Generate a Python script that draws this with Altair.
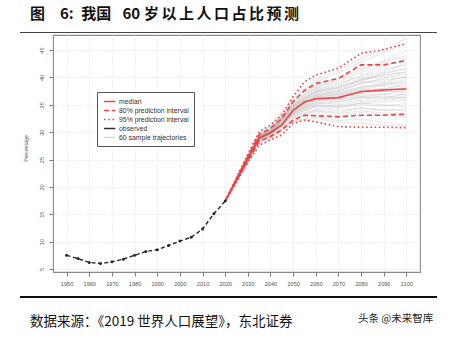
import altair as alt
import pandas as pd

# ---------------- data ----------------
obs_years = [1950, 1955, 1960, 1965, 1970, 1975, 1980, 1985, 1990, 1995, 2000, 2005, 2010, 2015, 2020]
obs_values = [7.5, 6.9, 6.2, 6.0, 6.3, 6.8, 7.5, 8.2, 8.5, 9.3, 10.1, 10.8, 12.3, 15.1, 17.4]

proj_years = [2020, 2025, 2030, 2035, 2040, 2045, 2050, 2055, 2060, 2070, 2080, 2090, 2100]
median = [17.4, 21.3, 25.2, 28.9, 29.9, 31.3, 34.0, 35.5, 36.1, 36.3, 37.4, 37.7, 37.9]
lo80 = [17.4, 21.1, 24.8, 28.3, 29.2, 30.4, 32.2, 33.1, 33.0, 32.8, 33.1, 33.1, 33.3]
hi80 = [17.4, 21.5, 25.6, 29.5, 30.7, 32.5, 35.6, 37.6, 38.9, 39.8, 42.3, 42.3, 43.1]
lo95 = [17.4, 20.9, 24.4, 27.6, 28.6, 29.5, 31.6, 32.2, 31.9, 31.0, 30.9, 30.9, 30.8]
hi95 = [17.4, 21.7, 26.0, 30.1, 31.3, 33.1, 36.5, 39.2, 40.4, 41.7, 44.4, 45.1, 46.2]

traj_years = [2025, 2030, 2035, 2040, 2050, 2060, 2070, 2080, 2090, 2100]
trajectories = [
    [21.5, 25.6, 29.4, 30.6, 35.3, 38.2, 39.5, 41.3, 42.8, 44.0],
    [21.2, 25.0, 28.6, 29.5, 33.2, 34.6, 34.4, 35.0, 34.8, 35.2],
    [21.4, 25.4, 29.2, 30.3, 34.8, 37.3, 37.9, 39.6, 40.2, 41.1],
    [21.1, 24.8, 28.3, 29.1, 32.4, 33.5, 33.0, 33.6, 33.2, 32.7],
    [21.3, 25.2, 29.0, 30.0, 34.2, 36.5, 36.9, 38.0, 38.8, 39.0],
    [21.6, 25.8, 29.8, 31.0, 36.0, 39.3, 40.8, 42.9, 44.5, 46.3],
    [21.2, 25.1, 28.8, 29.7, 33.6, 35.4, 35.1, 36.0, 36.3, 36.0],
    [21.3, 25.3, 29.1, 30.1, 34.5, 36.8, 37.5, 39.0, 39.2, 40.2],
    [21.0, 24.7, 28.1, 28.9, 32.0, 32.8, 32.1, 32.4, 31.8, 31.2],
    [21.4, 25.5, 29.3, 30.4, 35.0, 37.8, 38.6, 40.4, 41.5, 42.3],
    [21.3, 25.1, 28.9, 29.8, 33.9, 36.0, 36.2, 37.1, 37.5, 37.3],
    [21.2, 24.9, 28.5, 29.4, 33.0, 34.2, 34.0, 34.3, 34.1, 33.9],
    [21.5, 25.7, 29.6, 30.8, 35.6, 38.6, 39.8, 41.6, 43.0, 44.9],
    [21.3, 25.2, 28.9, 29.9, 34.0, 36.3, 36.6, 37.8, 38.5, 38.4],
    [21.1, 24.9, 28.4, 29.3, 32.8, 34.0, 33.6, 34.5, 33.9, 34.3],
    [21.4, 25.3, 29.1, 30.2, 34.6, 37.0, 37.4, 38.8, 39.9, 40.6],
    [21.2, 25.0, 28.7, 29.6, 33.4, 35.0, 34.9, 35.6, 35.9, 36.5],
    [21.3, 25.4, 29.2, 30.3, 34.7, 37.4, 38.1, 39.3, 40.6, 41.8],
    [21.0, 24.6, 28.0, 28.8, 31.8, 32.5, 31.8, 31.6, 31.3, 31.0],
    [21.4, 25.3, 29.0, 30.1, 34.3, 36.6, 37.2, 38.3, 38.6, 39.3],
    [21.3, 25.1, 28.8, 29.8, 33.7, 35.7, 35.9, 36.8, 37.0, 37.6],
    [21.5, 25.5, 29.4, 30.5, 35.1, 38.0, 38.9, 40.1, 41.0, 42.6],
    [21.2, 24.9, 28.6, 29.5, 33.1, 34.8, 34.7, 35.3, 35.6, 35.8],
    [21.3, 25.2, 29.0, 30.0, 34.1, 36.2, 36.4, 37.5, 37.9, 38.8],
    [21.6, 25.9, 29.9, 31.1, 36.3, 39.6, 41.2, 43.5, 45.0, 47.2],
    [21.1, 24.8, 28.3, 29.2, 32.6, 33.8, 33.4, 33.9, 33.5, 33.4],
    [21.4, 25.4, 29.2, 30.3, 34.9, 37.5, 38.2, 39.8, 40.5, 40.9],
    [21.3, 25.2, 28.9, 29.9, 33.8, 35.8, 36.0, 36.5, 36.9, 36.8],
    [21.2, 25.0, 28.7, 29.7, 33.5, 35.2, 35.5, 36.4, 36.2, 37.0],
    [21.4, 25.4, 29.3, 30.4, 34.9, 37.6, 38.4, 39.5, 40.9, 41.5],
    [21.3, 25.3, 29.0, 30.1, 34.4, 36.7, 37.0, 38.2, 39.0, 39.6],
    [21.2, 25.1, 28.8, 29.8, 33.6, 35.5, 35.6, 36.3, 36.6, 36.3],
    [21.5, 25.6, 29.5, 30.7, 35.4, 38.4, 39.2, 40.9, 42.1, 43.4],
    [21.2, 25.0, 28.6, 29.6, 33.3, 34.9, 34.6, 35.3, 35.0, 34.6],
    [21.3, 25.2, 29.0, 30.0, 34.2, 36.4, 36.8, 37.7, 38.0, 38.1],
    [21.4, 25.4, 29.1, 30.2, 34.6, 37.1, 37.7, 39.1, 39.6, 40.0],
]

series_names = ["median", "80% prediction interval", "95% prediction interval",
                "observed", "60 sample trajectories"]
x_ticks = [1950, 1960, 1970, 1980, 1990, 2000, 2010, 2020, 2030, 2040, 2050,
           2060, 2070, 2080, 2090, 2100]
y_ticks = [5, 10, 15, 20, 25, 30, 35, 40, 45]

title_text = "图\u30006:\u2002我国\u2002\u200560\u2005岁\u2006以\u2006上\u2006人\u2006口\u2006占\u2006比\u2006预\u2006测"
source_text = "数据来源：《2019 世界人口展望》，东北证券"
mark_text = "头条 @未来智库"

# ---------------- tables ----------------
obs_df = pd.DataFrame({"year": obs_years, "value": obs_values, "series": "observed"})

rows = []
for name, vals, sname in [("median", median, "median"),
                          ("lo80", lo80, "80% prediction interval"),
                          ("hi80", hi80, "80% prediction interval"),
                          ("lo95", lo95, "95% prediction interval"),
                          ("hi95", hi95, "95% prediction interval")]:
    for yr, v in zip(proj_years, vals):
        rows.append({"year": yr, "value": v, "line": name, "series": sname})
red_df = pd.DataFrame(rows)

trows = []
for i, tr in enumerate(trajectories):
    trows.append({"year": obs_years[-1], "value": obs_values[-1], "traj": i,
                  "series": "60 sample trajectories"})
    for yr, v in zip(traj_years, tr):
        trows.append({"year": yr, "value": v, "traj": i, "series": "60 sample trajectories"})
traj_df = pd.DataFrame(trows)

# ---------------- encodings ----------------
RED = "#f44040"
x_enc = alt.X("year:Q", scale=alt.Scale(domain=[1944, 2106], nice=False, zero=False),
              axis=alt.Axis(values=x_ticks, format="d", title=None, labelPadding=5))
y_enc = alt.Y("value:Q", scale=alt.Scale(domain=[4.45, 47.75], nice=False, zero=False),
              axis=alt.Axis(values=y_ticks, title="Percentage", labelAngle=270,
                            labelAlign="center", labelBaseline="bottom", labelPadding=5,
                            titleX=-28, titleY=113, titleAngle=270, titleAlign="center",
                            titleBaseline="middle", titleFontSize=5.2,
                            titleFontWeight="normal", titleColor="#555",
                            titleFont="Liberation Sans"))
color_enc = alt.Color("series:N",
                      scale=alt.Scale(domain=series_names,
                                      range=[RED, RED, RED, "#2b2b2b", "rgba(150,150,150,0.36)"]),
                      legend=alt.Legend(title=None))
dash_enc = alt.StrokeDash("series:N",
                          scale=alt.Scale(domain=series_names,
                                          range=[[1, 0], [5, 3], [1.6, 2.6], [1, 0], [1, 0]]),
                          legend=alt.Legend(title=None))

traj_layer = alt.Chart(traj_df).mark_line(strokeWidth=0.7).encode(
    x=x_enc, y=y_enc, color=color_enc, strokeDash=dash_enc, detail="traj:N")

red_layer = alt.Chart(red_df).mark_line(strokeWidth=1.6).encode(
    x=x_enc, y=y_enc, color=color_enc, strokeDash=dash_enc, detail="line:N")

obs_line = alt.Chart(obs_df).mark_line(strokeWidth=1.4, strokeDash=[4, 2.5]).encode(
    x=x_enc, y=y_enc, color=color_enc)

obs_pts = alt.Chart(obs_df).mark_point(filled=True, size=9, color="#2b2b2b", opacity=1).encode(
    x=x_enc, y=y_enc)

# ---------------- annotations ----------------
title_layer = alt.Chart(pd.DataFrame({"t": [title_text]})).mark_text(
    align="left", baseline="middle", font="Noto Sans CJK SC", fontSize=15,
    fontWeight="bold", color="#111").encode(
    x=alt.value(-23), y=alt.value(-21), text="t:N")

src_layer = alt.Chart(pd.DataFrame({"t": [source_text]})).mark_text(
    align="left", baseline="middle", font="Noto Sans CJK SC", fontSize=13.5,
    color="#111").encode(
    x=alt.value(-23), y=alt.value(287), text="t:N")

wm_layer = alt.Chart(pd.DataFrame({"t": [mark_text]})).mark_text(
    align="left", baseline="middle", font="Noto Sans CJK SC", fontSize=10.5,
    color="#222").encode(
    x=alt.value(305), y=alt.value(284), text="t:N")

top_rule = alt.Chart(pd.DataFrame({"a": [0]})).mark_rule(
    color="#444", strokeWidth=1.2).encode(
    x=alt.value(-33), x2=alt.value(384), y=alt.value(-2.5))

bot_rule = alt.Chart(pd.DataFrame({"a": [0]})).mark_rule(
    color="#111", strokeWidth=2).encode(
    x=alt.value(-33), x2=alt.value(384), y=alt.value(262))

chart = alt.layer(
    traj_layer, red_layer, obs_line, obs_pts,
    title_layer, src_layer, wm_layer, top_rule, bot_rule
).properties(
    width=367, height=237,
    autosize=alt.AutoSizeParams(type="none"),
    padding={"left": 53, "top": 35, "right": 32, "bottom": 68},
    background="white",
).configure_view(
    stroke="#8a8a8a", strokeWidth=1.1
).configure_axis(
    labelFont="Liberation Sans", labelFontSize=5.6, labelColor="#555",
    tickColor="#777", tickSize=4, domain=False,
    gridColor="#d6d6d6", gridDash=[1, 2], gridWidth=0.8,
).configure_legend(
    orient="none", legendX=44, legendY=57,
    strokeColor="#555", fillColor="white", padding=5,
    symbolType="M-0.7,0H2.5", symbolSize=49, symbolStrokeWidth=1.6,
    labelFont="Liberation Sans", labelFontSize=6.9, labelColor="#333",
    rowPadding=1, labelOffset=8,
)

chart.save("out.html", embed_options={"renderer": "svg", "actions": False})
